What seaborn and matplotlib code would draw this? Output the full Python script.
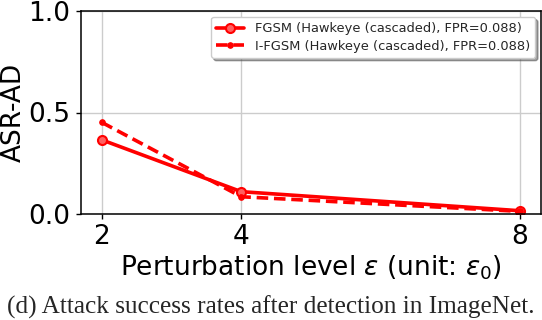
import pandas as pd
import matplotlib
matplotlib.use("Agg")
import matplotlib.pyplot as plt
import seaborn as sns

eps_levels = [2, 4, 8]
fgsm_asr = [0.365, 0.110, 0.016]
ifgsm_asr = [0.451, 0.085, 0.013]
fgsm_label = "FGSM (Hawkeye (cascaded), FPR=0.088)"
ifgsm_label = "I-FGSM (Hawkeye (cascaded), FPR=0.088)"

df = pd.DataFrame({"eps": eps_levels, "fgsm": fgsm_asr, "ifgsm": ifgsm_asr})

sns.set_style("whitegrid")
plt.rcParams['font.family'] = ['DejaVu Sans']

fig = plt.figure(figsize=(5.42, 3.2), dpi=100)
ax = fig.add_axes([81 / 542, 106 / 320, 460 / 542, 203 / 320])

sns.lineplot(data=df, x="eps", y="fgsm", ax=ax, color="red", linewidth=2.6,
             marker="o", markersize=6.5, markerfacecolor="#ff6060",
             markeredgecolor="red", markeredgewidth=1.5, label=fgsm_label)
sns.lineplot(data=df, x="eps", y="ifgsm", ax=ax, color="red", linewidth=2.6,
             linestyle=(0, (3.2, 1.6)), marker=".", markersize=8,
             markeredgecolor="red", label=ifgsm_label)

ax.set_xlim(1.7, 8.3)
ax.set_ylim(0, 1.0)
ax.set_xticks(eps_levels)
ax.set_yticks([0.0, 0.5, 1.0])
ax.tick_params(axis="both", labelsize=19, colors="black", length=3.5, width=1,
               left=True, bottom=True, pad=4)
ax.grid(True, color="#cccccc", linewidth=1)
ax.set_facecolor("white")

for side in ["left", "bottom", "top", "right"]:
    ax.spines[side].set_color("black")
    ax.spines[side].set_linewidth(1.1)

ax.set_xlabel(r"Perturbation level $\epsilon$ (unit: $\epsilon_0$)", fontsize=19,
              color="black", labelpad=2)
ax.set_ylabel("ASR-AD", fontsize=19, color="black")
ax.yaxis.set_label_coords(-0.118, 0.5)

leg = ax.legend(loc="upper right", fontsize=9.4, frameon=True, shadow=True,
                fancybox=True, borderpad=0.4, handlelength=2.15,
                labelspacing=0.35, borderaxespad=0.45)
leg.get_frame().set_edgecolor("#cccccc")

fig.text(0.5, 0.04, "(d) Attack success rates after detection in ImageNet.",
         ha="center", va="center", fontsize=18.2, family="Liberation Serif")

fig.savefig("out.png", dpi=100, facecolor="white")
